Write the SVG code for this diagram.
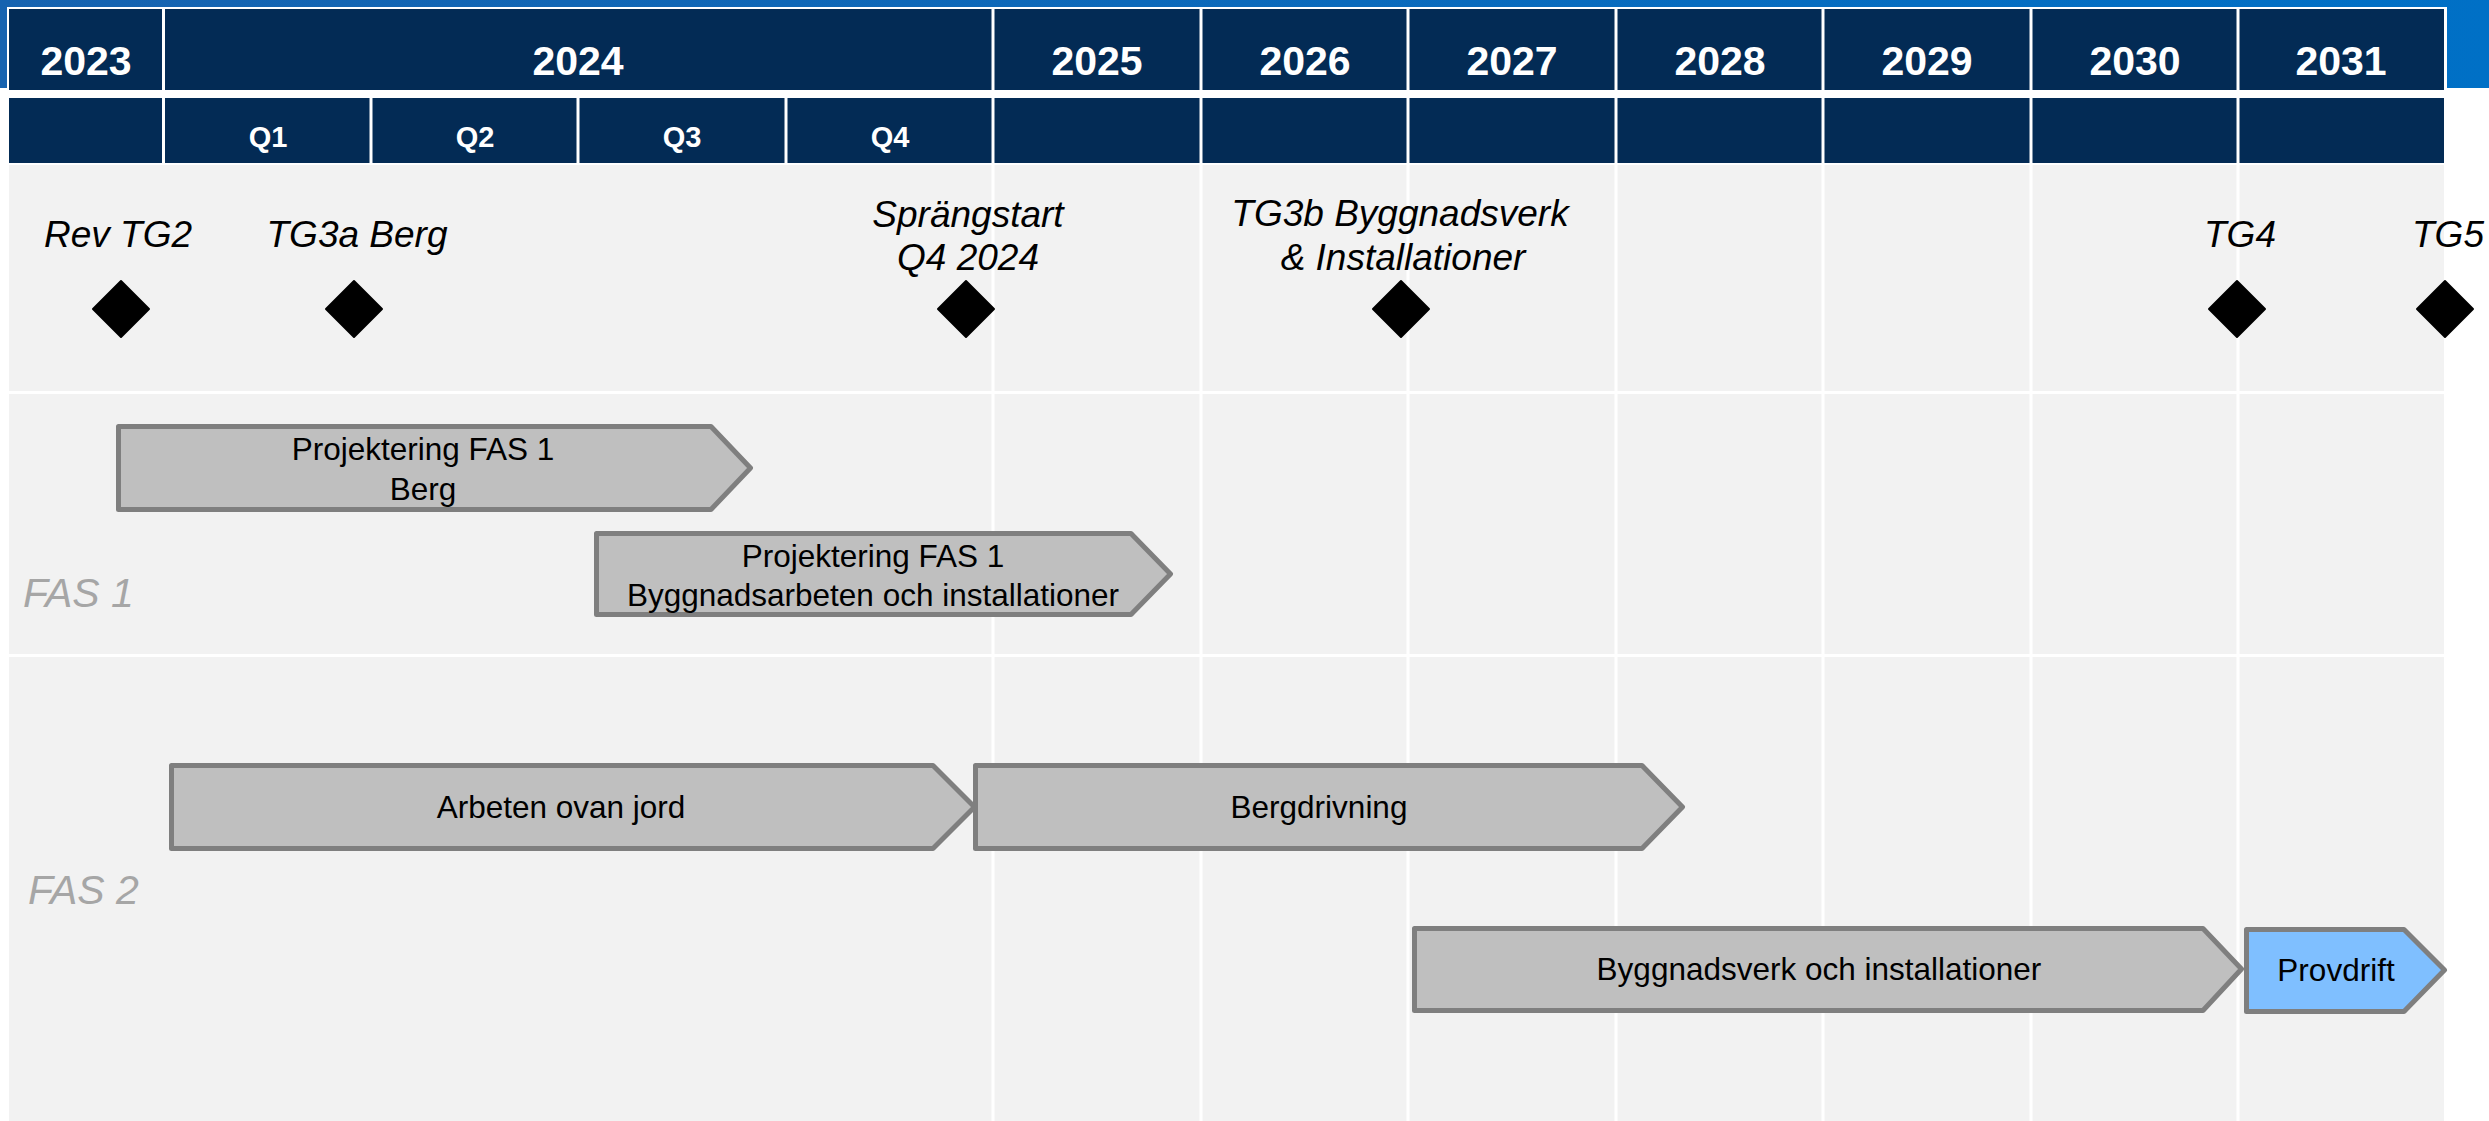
<svg xmlns="http://www.w3.org/2000/svg" width="2489" height="1121" viewBox="0 0 2489 1121">
<defs>
<linearGradient id="topblue" x1="0" y1="0" x2="1" y2="0">
<stop offset="0" stop-color="#1663B0"/>
<stop offset="1" stop-color="#0070C6"/>
</linearGradient>
</defs>
<style>
.hdr{fill:#032B55;}
.yr{font-family:"Liberation Sans",Arial,sans-serif;font-weight:bold;font-size:41px;fill:#FFFFFF;text-anchor:middle;}
.qt{font-family:"Liberation Sans",Arial,sans-serif;font-weight:bold;font-size:29px;fill:#FFFFFF;text-anchor:middle;}
.grid{stroke:#FFFFFF;stroke-width:3;}
.ms{font-family:"Liberation Sans",Arial,sans-serif;font-style:italic;font-size:37px;fill:#000000;text-anchor:middle;}
.dia{fill:#000000;stroke:#000000;stroke-width:2;stroke-linejoin:round;}
.phase{font-family:"Liberation Sans",Arial,sans-serif;font-style:italic;font-size:41px;fill:#A6A6A6;}
.bar{fill:#BFBFBF;stroke:#7F7F7F;stroke-width:5;stroke-linejoin:round;}
.bar-blue{fill:#7FBFFF;stroke:#7F7F7F;stroke-width:5;stroke-linejoin:round;}
.bt{font-family:"Liberation Sans",Arial,sans-serif;font-size:31.5px;fill:#000000;text-anchor:middle;}
</style>
<rect x="0" y="0" width="2489" height="1121" fill="#FFFFFF"/>
<rect x="0" y="0" width="2489" height="88" fill="url(#topblue)"/>
<rect x="7" y="7" width="2440" height="1114" fill="#FFFFFF"/>

<g id="header">
<rect class="hdr" x="9" y="9" width="2435" height="81"/>
<rect class="hdr" x="9" y="98" width="2435" height="65"/>
<line class="grid" x1="163.5" y1="9" x2="163.5" y2="163"/>
<line class="grid" x1="993" y1="9" x2="993" y2="163"/>
<line class="grid" x1="1201" y1="9" x2="1201" y2="163"/>
<line class="grid" x1="1408" y1="9" x2="1408" y2="163"/>
<line class="grid" x1="1616" y1="9" x2="1616" y2="163"/>
<line class="grid" x1="1823" y1="9" x2="1823" y2="163"/>
<line class="grid" x1="2031" y1="9" x2="2031" y2="163"/>
<line class="grid" x1="2238" y1="9" x2="2238" y2="163"/>
<line class="grid" x1="371" y1="98" x2="371" y2="163"/>
<line class="grid" x1="578" y1="98" x2="578" y2="163"/>
<line class="grid" x1="786" y1="98" x2="786" y2="163"/>
<text class="yr" x="86" y="75">2023</text>
<text class="yr" x="578" y="75">2024</text>
<text class="yr" x="1097" y="75">2025</text>
<text class="yr" x="1305" y="75">2026</text>
<text class="yr" x="1512" y="75">2027</text>
<text class="yr" x="1720" y="75">2028</text>
<text class="yr" x="1927" y="75">2029</text>
<text class="yr" x="2135" y="75">2030</text>
<text class="yr" x="2341" y="75">2031</text>
<text class="qt" x="268" y="147">Q1</text>
<text class="qt" x="475" y="147">Q2</text>
<text class="qt" x="682" y="147">Q3</text>
<text class="qt" x="890" y="147">Q4</text>
</g>

<g id="body">
<rect x="9" y="165" width="2435" height="956" fill="#F2F2F2"/>
<line class="grid" x1="993" y1="165" x2="993" y2="1121"/>
<line class="grid" x1="1201" y1="165" x2="1201" y2="1121"/>
<line class="grid" x1="1408" y1="165" x2="1408" y2="1121"/>
<line class="grid" x1="1616" y1="165" x2="1616" y2="1121"/>
<line class="grid" x1="1823" y1="165" x2="1823" y2="1121"/>
<line class="grid" x1="2031" y1="165" x2="2031" y2="1121"/>
<line class="grid" x1="2238" y1="165" x2="2238" y2="1121"/>
<line class="grid" x1="9" y1="392.5" x2="2444" y2="392.5"/>
<line class="grid" x1="9" y1="655.5" x2="2444" y2="655.5"/>
<text class="phase" x="23" y="607">FAS 1</text>
<text class="phase" x="28" y="904">FAS 2</text>
</g>

<g id="ms-revtg2">
<text class="ms" x="118" y="247">Rev TG2</text>
<polygon class="dia" points="121,281 149,309 121,337 93,309"/>
</g>
<g id="ms-tg3a">
<text class="ms" x="357" y="247">TG3a Berg</text>
<polygon class="dia" points="354,281 382,309 354,337 326,309"/>
</g>
<g id="ms-sprangstart">
<text class="ms" x="968" y="227">Sprängstart</text>
<text class="ms" x="968" y="270">Q4 2024</text>
<polygon class="dia" points="966,281 994,309 966,337 938,309"/>
</g>
<g id="ms-tg3b">
<text class="ms" x="1400" y="226">TG3b Byggnadsverk</text>
<text class="ms" x="1403" y="270">&amp; Installationer</text>
<polygon class="dia" points="1401,281 1429,309 1401,337 1373,309"/>
</g>
<g id="ms-tg4">
<text class="ms" x="2240" y="247">TG4</text>
<polygon class="dia" points="2237,281 2265,309 2237,337 2209,309"/>
</g>
<g id="ms-tg5">
<text class="ms" x="2448" y="247">TG5</text>
<polygon class="dia" points="2445,281 2473,309 2445,337 2417,309"/>
</g>

<g id="bar-proj-berg">
<polygon class="bar" points="118.5,426.5 711,426.5 750.5,468 711,509.5 118.5,509.5"/>
<text class="bt" x="423" y="460">Projektering FAS 1</text>
<text class="bt" x="423" y="500">Berg</text>
</g>
<g id="bar-proj-bygg">
<polygon class="bar" points="596.5,533.5 1131,533.5 1170.5,574 1131,614.5 596.5,614.5"/>
<text class="bt" x="873" y="567">Projektering FAS 1</text>
<text class="bt" x="873" y="606">Byggnadsarbeten och installationer</text>
</g>
<g id="bar-arbeten">
<polygon class="bar" points="171.5,765.5 933,765.5 974.5,807 933,848.5 171.5,848.5"/>
<text class="bt" x="561" y="818">Arbeten ovan jord</text>
</g>
<g id="bar-bergdrivning">
<polygon class="bar" points="975.5,765.5 1642,765.5 1682.5,807 1642,848.5 975.5,848.5"/>
<text class="bt" x="1319" y="818">Bergdrivning</text>
</g>
<g id="bar-byggnadsverk">
<polygon class="bar" points="1414.5,928.5 2203,928.5 2241.5,969 2203,1010.5 1414.5,1010.5"/>
<text class="bt" x="1819" y="980">Byggnadsverk och installationer</text>
</g>
<g id="bar-provdrift">
<polygon class="bar-blue" points="2246.5,929.5 2404,929.5 2444.5,970 2404,1011.5 2246.5,1011.5"/>
<text class="bt" x="2336" y="981">Provdrift</text>
</g>
<g id="connectors"/>
</svg>
